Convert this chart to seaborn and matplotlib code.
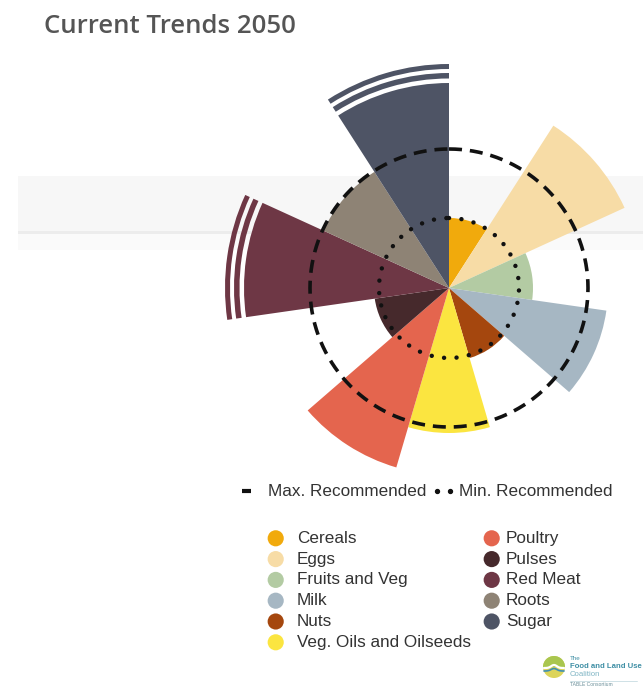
import numpy as np
import pandas as pd
import matplotlib
matplotlib.use("Agg")
import matplotlib.pyplot as plt
from matplotlib.patches import Rectangle, Circle, Wedge
import seaborn as sns

# Food groups, clockwise from 12 o'clock
categories = ["Cereals", "Eggs", "Fruits and Veg", "Milk", "Nuts",
              "Veg. Oils and Oilseeds", "Poultry", "Pulses", "Red Meat",
              "Roots", "Sugar"]
# radial length of each wedge; Red Meat and Sugar run off the scale
values = [70, 193, 84, 159, 73, 145, 187, 75, 205, 138, 205]
off_scale = ["Red Meat", "Sugar"]
max_recommended = 139
min_recommended = 70
colors = ["#F1AA0C", "#F7DCA6", "#B3CBA3", "#A6B7C3", "#A5470E",
          "#FBE540", "#E4654E", "#46292C", "#6E3745", "#8E8375", "#4E5465"]
legend_left = categories[:6]
legend_right = categories[6:]
title = "Current Trends 2050"

W, H = 643, 687
sns.set_theme(style="white")
plt.rcParams["font.family"] = ["Liberation Sans", "DejaVu Sans"]

fig = plt.figure(figsize=(W / 100, H / 100), dpi=100)
fig.patch.set_facecolor("white")

# full-figure overlay in pixel coordinates for title, legend and backdrop
bg = fig.add_axes([0, 0, 1, 1], zorder=0)
bg.set_xlim(0, W)
bg.set_ylim(H, 0)
bg.axis("off")

# pale horizontal band behind the chart
bg.add_patch(Rectangle((18, 176), W - 18, 55, color="#f7f7f7", lw=0))
bg.add_patch(Rectangle((18, 231), W - 18, 3, color="#ececec", lw=0))
bg.add_patch(Rectangle((18, 234), W - 18, 16, color="#fafafa", lw=0))

bg.text(44, 33, title, fontsize=18.5, color="#555555", family="Open Sans",
        fontweight="semibold", va="baseline", ha="left")

# rose chart
cx, cy, R = 449, 288, 240
ax = fig.add_axes([(cx - R) / W, (H - cy - R) / H, 2 * R / W, 2 * R / H],
                  projection="polar", zorder=1)
ax.set_facecolor("none")
ax.set_theta_zero_location("N")
ax.set_theta_direction(-1)

n = len(categories)
step = 2 * np.pi / n
df = pd.DataFrame({"theta": (np.arange(n) + 0.5) * step,
                   "value": values, "category": categories})
palette = dict(zip(categories, colors))
sns.barplot(data=df, x="theta", y="value", hue="category", palette=palette,
            native_scale=True, width=1.0, dodge=False, saturation=1,
            linewidth=0, legend=False, ax=ax)

# break marks beyond the truncated wedges
for cat in off_scale:
    i = categories.index(cat)
    for lo, hi in [(209.5, 215), (219, 224)]:
        ax.bar(df.theta[i], hi - lo, bottom=lo, width=step,
               color=palette[cat], linewidth=0)

ring = np.linspace(0, 2 * np.pi, 721)
ax.plot(ring, np.full_like(ring, max_recommended), color="#111111", lw=2.6,
        ls=(0, (3.6, 2.2)), zorder=5)
ax.plot(ring, np.full_like(ring, min_recommended), color="#111111", lw=3.2,
        ls=(0, (0.01, 2.8)), dash_capstyle="round", zorder=5)

ax.set_ylim(0, R)
ax.set_xlabel("")
ax.set_ylabel("")
ax.set_xticks([])
ax.set_yticks([])
ax.grid(False)
ax.spines["polar"].set_visible(False)

# reference-line key
txt = "#333333"
fs = 12.3
bg.plot([242, 251], [491, 491], color="#111111", lw=3, solid_capstyle="butt")
bg.text(268, 491, "Max. Recommended", fontsize=fs, color=txt, va="center")
bg.scatter([437, 450], [491, 491], s=8, color="#111111")
bg.text(459, 491, "Min. Recommended", fontsize=fs, color=txt, va="center")

# food group key
row0, dy = 538.3, 20.8
for col, (names, mx, tx) in enumerate([(legend_left, 275.7, 296.7),
                                       (legend_right, 491.7, 506)]):
    ys = [row0 + k * dy for k in range(len(names))]
    sns.scatterplot(x=[mx] * len(names), y=ys, hue=names,
                    palette=[palette[c] for c in names], s=135,
                    linewidth=0, legend=False, ax=bg)
    for name, y in zip(names, ys):
        bg.text(tx, y, name, fontsize=fs, color=txt, va="center")
bg.set_xlim(0, W)
bg.set_ylim(H, 0)
bg.axis("off")

# coalition mark
bg.add_patch(Circle((554, 667), 11, color="#dcd45a", lw=0))
bg.add_patch(Wedge((554, 667), 11, 180, 360, color="#a9c64f", lw=0))
wave_x = np.linspace(544, 564, 30)
bg.plot(wave_x, 668 - 3 * np.exp(-((wave_x - 554) / 4) ** 2), color="white", lw=1.6)
bg.plot(wave_x, 671 - 2.5 * np.exp(-((wave_x - 554) / 4) ** 2), color="#3f8fb3", lw=1.2)
logo_c = "#3f8fa5"
bg.text(570, 659, "The", fontsize=4.5, color=logo_c, va="center")
bg.text(570, 667, "Food and Land Use", fontsize=5.6, color=logo_c,
        va="center", fontweight="bold")
bg.text(570, 675, "Coalition", fontsize=5.6, color="#7fb5c4", va="center")
bg.plot([570, 637], [680.5, 680.5], color="#c8dce2", lw=0.6)
bg.text(570, 684.5, "TABLE Consortium", fontsize=3.6, color="#6b8f99", va="center")

fig.savefig("out.png", dpi=100, facecolor="white")
